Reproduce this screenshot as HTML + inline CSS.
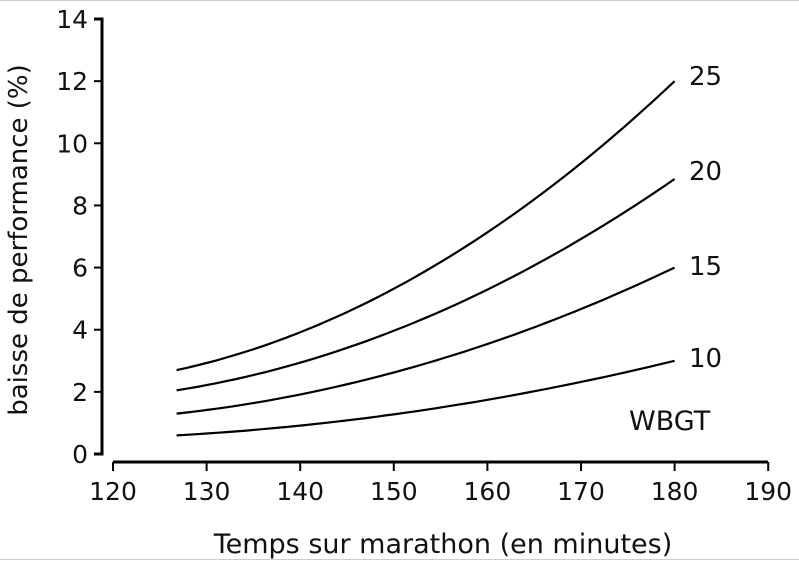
<!DOCTYPE html><html><head><style>body{margin:0;background:#fff}</style></head><body>
<svg id="s" width="799" height="563" xmlns="http://www.w3.org/2000/svg" style="font-family:'DejaVu Sans','Liberation Sans',sans-serif;display:block">
<rect x="0" y="0" width="799" height="563" fill="#fff"/>
<line x1="0" y1="0.5" x2="799" y2="0.5" stroke="#ccc"/>
<line x1="0" y1="559.5" x2="799" y2="559.5" stroke="#ccc"/>
<g stroke="#000" stroke-width="3" fill="none">
<path d="M94 19 H102 V454 H94"/>
<path d="M113 462 H768"/>
</g>
<g id="ticks" stroke="#000" stroke-width="2"></g>
<g id="curves" stroke="#000" stroke-width="2.2" fill="none"></g>
<g font-size="25" fill="#111" id="lbl"></g>
<g font-size="26" fill="#111">
<text x="689" y="85">25</text>
<text x="689" y="180">20</text>
<text x="689" y="275">15</text>
<text x="689" y="367">10</text>
<text x="629" y="430" font-size="27">WBGT</text>
<text x="443" y="553" text-anchor="middle" font-size="27">Temps sur marathon (en minutes)</text>
<text transform="translate(27,240) rotate(-90)" text-anchor="middle">baisse de performance (%)</text>
</g>
</svg>
<script>
var ns="http://www.w3.org/2000/svg";
function X(v){return 113+(v-120)*9.36}
function Y(v){return 454-v*31.07}
var t=document.getElementById('ticks'),l=document.getElementById('lbl'),c=document.getElementById('curves');
function el(p,n,a,txt){var e=document.createElementNS(ns,n);for(var k in a)e.setAttribute(k,a[k]);if(txt)e.textContent=txt;p.appendChild(e);}
for(var v=0;v<=14;v+=2){var y=Y(v);el(t,'line',{x1:94,y1:y,x2:102,y2:y});el(l,'text',{x:88,y:y+9,'text-anchor':'end'},String(v));}
for(var v=120;v<=190;v+=10){var x=X(v);el(t,'line',{x1:x,y1:462,x2:x,y2:471});el(l,'text',{x:x,y:500,'text-anchor':'middle'},String(v));}
[[2.7,12],[2.05,8.85],[1.3,6],[0.6,3]].forEach(function(s){var d='';for(var i=0;i<=50;i++){var tt=i/50,m=126.8+53.2*tt,f=0.372*tt+0.628*tt*tt,v=s[0]+(s[1]-s[0])*f;d+=(i?'L':'M')+X(m).toFixed(1)+' '+Y(v).toFixed(1);}el(c,'path',{d:d});});
</script>
</body></html>
